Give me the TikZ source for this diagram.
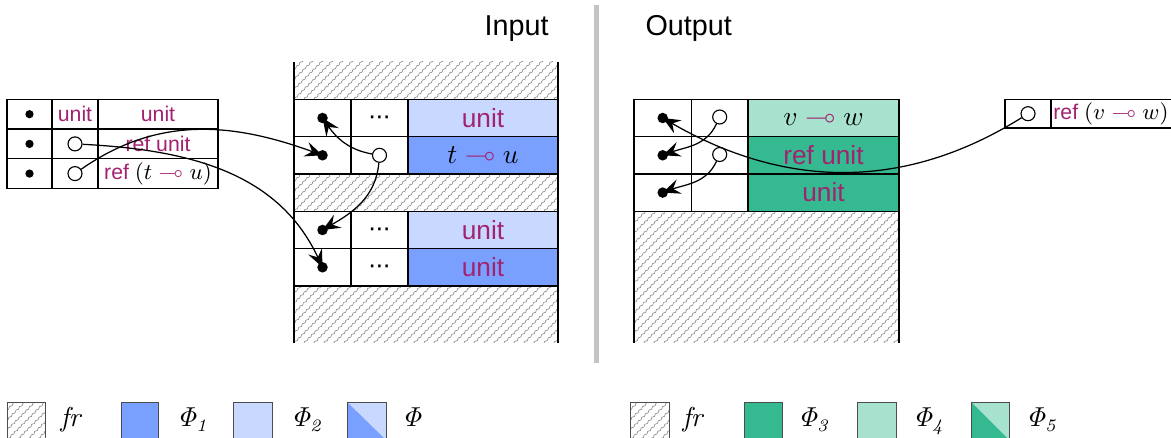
\documentclass[tikz,border=0pt]{standalone}
\usepackage[no-math]{fontspec}
\setmainfont{Liberation Sans}
\usepackage{amssymb}
\usetikzlibrary{arrows.meta,decorations.pathmorphing}

\definecolor{phione}{RGB}{122,160,255}
\definecolor{phitwo}{RGB}{201,216,255}
\definecolor{phithree}{RGB}{52,185,145}
\definecolor{phifour}{RGB}{166,226,206}
\definecolor{keyw}{RGB}{163,34,112}
\definecolor{hatchgray}{RGB}{135,135,135}
\definecolor{sepgray}{RGB}{196,196,196}

\newcommand{\kw}[1]{\textcolor{keyw}{#1}}
\newcommand{\lolli}{\mathrel{\textcolor{keyw}{\multimap}}}
\newcommand{\skipped}{\char"00B7\kern-.6pt\char"00B7\kern-.6pt\char"00B7}

% free (hatched) area: x0, top, x1, bottom
\newcommand{\freearea}[4]{%
  \begin{scope}
    \clip (#1,#2) rectangle (#3,#4);
    \foreach \s in {-140,-130,...,270}
      \draw[hatch] ({#1+\s},#4) -- ++(140,140);
  \end{scope}}

\begin{document}
\begin{tikzpicture}[x=0.4pt,y=0.4pt,
    cell/.style={draw,line width=0.5pt},
    hatch/.style={draw=hatchgray,line width=0.25pt,decorate,
      decoration={snake,segment length=2pt,amplitude=0.25pt}},
    legbox/.style={draw=black!70,line width=0.4pt},
    memdot/.style={circle,fill,inner sep=0pt,minimum size=4.2pt},
    smalldot/.style={circle,fill,inner sep=0pt,minimum size=3.3pt},
    refhole/.style={circle,draw,fill=white,inner sep=0pt,minimum size=5.6pt,line width=0.45pt},
    ptr/.style={line width=0.5pt,-{Stealth[length=7pt,width=6pt,inset=2.6pt]}},
    celltxt/.style={inner sep=1pt,font=\fontsize{10.5}{12}\selectfont},
    tabtxt/.style={inner sep=1pt,font=\fontsize{8.5}{10}\selectfont},
    headtxt/.style={inner sep=0pt,font=\fontsize{11.5}{14}\selectfont},
    legtxt/.style={inner sep=0pt,font=\fontsize{10.5}{12}\selectfont}]
  \useasboundingbox (0,0) rectangle (1171,-438);

  % separator
  \draw[sepgray,line width=2pt] (596.8,-5) -- (596.8,-363);
  \node[headtxt,anchor=base east] (inhead) at (549,-36) {Input};
  \node[headtxt,anchor=base west] (outhead) at (645,-36) {Output};

  % left table
  \foreach \t/\b in {-99.3/-129,-129/-158.7,-158.7/-188.5}
    \draw[cell] (7,\t) rectangle (52,\b) (52,\t) rectangle (98,\b) (98,\t) rectangle (218,\b);
  \node[smalldot] (lt1) at (29.5,-114.2) {};
  \node[smalldot] (lt2) at (29.5,-143.9) {};
  \node[smalldot] (lt3) at (29.5,-173.6) {};
  \node[tabtxt] (lt1u) at (75,-114.2) {\kw{unit}};
  \node[tabtxt] (lt1v) at (158,-114.2) {\kw{unit}};
  \node[refhole] (lref1) at (75,-143.9) {};
  \node[tabtxt] (lt2v) at (158,-143.9) {\kw{ref unit}};
  \node[refhole] (lref2) at (75,-173.6) {};
  \node[tabtxt] (lt3v) at (158,-173.6) {\kw{ref} {\fontsize{8.8}{10}\selectfont$(t \lolli u)$}};

  % input memory
  \freearea{294}{-62}{558}{-99.3}
  \freearea{294}{-174}{558}{-211.3}
  \freearea{294}{-286}{558}{-343}
  \fill[phitwo] (408,-99.3) rectangle (558,-136.7);
  \fill[phione] (408,-136.7) rectangle (558,-174);
  \fill[phitwo] (408,-211.3) rectangle (558,-248.6);
  \fill[phione] (408,-248.6) rectangle (558,-286);
  \foreach \t/\b in {-99.3/-136.7,-136.7/-174,-211.3/-248.6,-248.6/-286}
    \draw[cell] (294,\t) rectangle (351,\b) (351,\t) rectangle (408,\b) (408,\t) rectangle (558,\b);
  \draw[cell] (294,-62) -- (294,-343) (558,-62) -- (558,-343);

  \node[memdot] (in1) at (322.5,-118) {};
  \node[memdot] (in2) at (322.5,-155.3) {};
  \node[memdot] (in3) at (322.5,-230) {};
  \node[memdot] (in4) at (322.5,-267.3) {};
  \node[celltxt] (in1e) at (379.5,-120) {\skipped};
  \node[refhole] (inref) at (379.5,-155.3) {};
  \node[celltxt] (in3e) at (379.5,-232) {\skipped};
  \node[celltxt] (in4e) at (379.5,-269.3) {\skipped};
  \node[celltxt] (in1v) at (483,-118) {\kw{unit}};
  \node[celltxt] (in2v) at (483,-155.3) {\fontsize{11}{12}\selectfont$t \lolli u$};
  \node[celltxt] (in3v) at (483,-230) {\kw{unit}};
  \node[celltxt] (in4v) at (483,-267.3) {\kw{unit}};

  % output memory
  \freearea{634}{-211.3}{899}{-343}
  \fill[phifour] (748,-99.3) rectangle (899,-136.7);
  \fill[phithree] (748,-136.7) rectangle (899,-211.3);
  \foreach \t/\b in {-99.3/-136.7,-136.7/-174,-174/-211.3}
    \draw[cell] (634,\t) rectangle (691.5,\b) (691.5,\t) rectangle (748,\b) (748,\t) rectangle (899,\b);
  \draw[cell] (634,-211.3) -- (634,-343) (899,-211.3) -- (899,-343);

  \node[memdot] (out1) at (662.7,-118) {};
  \node[memdot] (out2) at (662.7,-155.3) {};
  \node[memdot] (out3) at (662.7,-192.6) {};
  \node[refhole] (outref1) at (719.7,-117) {};
  \node[refhole] (outref2) at (719.7,-154.5) {};
  \node[celltxt] (out1v) at (823.5,-118) {\fontsize{11}{12}\selectfont$v \lolli w$};
  \node[celltxt] (out2v) at (823.5,-155.3) {\kw{ref unit}};
  \node[celltxt] (out3v) at (823.5,-192.6) {\kw{unit}};

  % right table
  \draw[cell] (1005,-99.3) rectangle (1051,-128) (1051,-99.3) rectangle (1172,-128);
  \node[refhole] (rref) at (1028,-113.7) {};
  \node[tabtxt] (rtv) at (1111,-113.7) {\kw{ref} {\fontsize{8.8}{10}\selectfont$(v \lolli w)$}};

  % pointers
  \draw[ptr] (lref2) to[out=35,in=160] (in2.center);
  \draw[ptr] (lref1) to[out=-3,in=115] (in4.center);
  \draw[ptr] (inref) to[out=170,in=-55] (in1.center);
  \draw[ptr] (inref) to[out=-95,in=30] (in3.center);
  \draw[ptr] (outref1) to[out=-115,in=20] (out2.center);
  \draw[ptr] (outref2) to[out=-115,in=20] (out3.center);
  \draw[ptr] (rref) to[out=212,in=-30] (out1.center);

  % legend, input side
  \freearea{7}{-402}{45}{-440}
  \draw[legbox] (7,-402) rectangle (45,-440);
  \node[legtxt,anchor=base west] (lgfra) at (60,-427) {$\mathit{fr}$};
  \draw[legbox,fill=phione] (121,-402) rectangle (158,-440);
  \node[legtxt,anchor=base west] (lgone) at (176,-427) {$\mathit{\Phi_1}$};
  \draw[legbox,fill=phitwo] (233,-402) rectangle (272,-440);
  \node[legtxt,anchor=base west] (lgtwo) at (290,-427) {$\mathit{\Phi_2}$};
  \fill[phitwo] (347,-402) rectangle (386,-440);
  \fill[phione] (347,-402) -- (347,-440) -- (386,-440) -- cycle;
  \draw[legbox] (347,-402) rectangle (386,-440);
  \node[legtxt,anchor=base west] (lgphi) at (401,-427) {$\mathit{\Phi}$};

  % legend, output side
  \freearea{630}{-402}{669}{-440}
  \draw[legbox] (630,-402) rectangle (669,-440);
  \node[legtxt,anchor=base west] (lgfrb) at (682,-427) {$\mathit{fr}$};
  \draw[legbox,fill=phithree] (744,-402) rectangle (782,-440);
  \node[legtxt,anchor=base west] (lgthree) at (797,-427) {$\mathit{\Phi_3}$};
  \draw[legbox,fill=phifour] (857,-402) rectangle (896,-440);
  \node[legtxt,anchor=base west] (lgfour) at (912,-427) {$\mathit{\Phi_4}$};
  \fill[phifour] (971,-402) rectangle (1009,-440);
  \fill[phithree] (971,-402) -- (971,-440) -- (1009,-440) -- cycle;
  \draw[legbox] (971,-402) rectangle (1009,-440);
  \node[legtxt,anchor=base west] (lgfive) at (1025,-427) {$\mathit{\Phi_5}$};
\end{tikzpicture}
\end{document}
